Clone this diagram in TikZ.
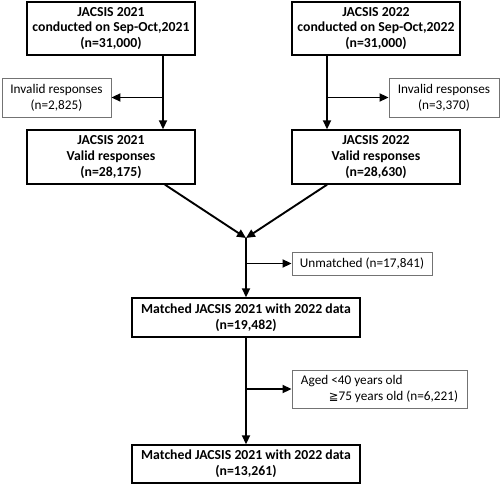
\documentclass[tikz,border=0pt]{standalone}
\usepackage{fontspec}
\setmainfont{Carlito}
\newfontfamily\symfont{DejaVu Sans}
\usepackage{xcolor}
\usepackage{tikz}
\usetikzlibrary{arrows.meta, positioning, calc}

\begin{document}
\begin{tikzpicture}[
    x=1bp, y=-1bp,
    font=\fontsize{13.3}{16}\selectfont,
    mainbox/.style={rectangle, draw, line width=1.4bp, align=center, font=\fontsize{13.8}{16}\selectfont\bfseries, inner sep=0pt},
    sidebox/.style={rectangle, draw=black!55, line width=0.9bp, align=center, inner sep=0pt},
    arrow/.style={line width=1.9bp, -{Triangle[length=9bp, width=8bp]}}
]
    \useasboundingbox (0,0) rectangle (500,485);

    \node[mainbox, minimum width=168bp, minimum height=53bp] (s21) at (111,28.5) {JACSIS 2021\\conducted on Sep-Oct,2021\\(n=31,000)};
    \node[mainbox, minimum width=168bp, minimum height=53bp] (s22) at (376,28.5) {JACSIS 2022\\conducted on Sep-Oct,2022\\(n=31,000)};

    \node[sidebox, minimum width=109bp, minimum height=39bp] (inv21) at (56.5,97.5) {Invalid responses\\(n=2,825)};
    \node[sidebox, minimum width=110bp, minimum height=39bp] (inv22) at (444,97.5) {Invalid responses\\(n=3,370)};

    \node[mainbox, minimum width=168bp, minimum height=54bp] (v21) at (111,157) {JACSIS 2021\\Valid responses\\(n=28,175)};
    \node[mainbox, minimum width=168bp, minimum height=54bp] (v22) at (376,157) {JACSIS 2022\\Valid responses\\(n=28,630)};

    \coordinate (join) at (246,238);

    \node[sidebox, minimum width=140bp, minimum height=23bp] (unm) at (362,263.5) {Unmatched (n=17,841)};
    \node[mainbox, minimum width=228bp, minimum height=39bp] (m1) at (246,317.5) {Matched JACSIS 2021 with 2022 data\\(n=19,482)};
    \node[sidebox, minimum width=175bp, minimum height=38bp, align=left] (age) at (379.5,389) {Aged <40 years old\\\hspace{28bp}{\symfont\fontsize{11.5}{16}\selectfont ≧}75 years old (n=6,221)};
    \node[mainbox, minimum width=228bp, minimum height=38bp] (m2) at (246,464) {Matched JACSIS 2021 with 2022 data\\(n=13,261)};

    % exclusions from the two surveys
    \draw[arrow] ($(s21.south)+(52,0)$) coordinate (p21) -- (p21 |- v21.north);
    \draw[arrow] (p21 |- inv21.east) -- (inv21.east);
    \draw[arrow] ($(s22.south)+(-49,0)$) coordinate (p22) -- (p22 |- v22.north);
    \draw[arrow] (p22 |- inv22.west) -- (inv22.west);

    % matching
    \draw[arrow] ($(v21.south)+(54,0)$) -- (join);
    \draw[arrow] ($(v22.south)+(-49,0)$) -- (join);
    \draw[arrow] (join) -- (m1.north);
    \draw[arrow] (join |- unm.west) -- (unm.west);

    \draw[arrow] (m1.south) -- (m2.north);
    \draw[arrow] (m1.south |- age.west) -- (age.west);
\end{tikzpicture}
\end{document}
